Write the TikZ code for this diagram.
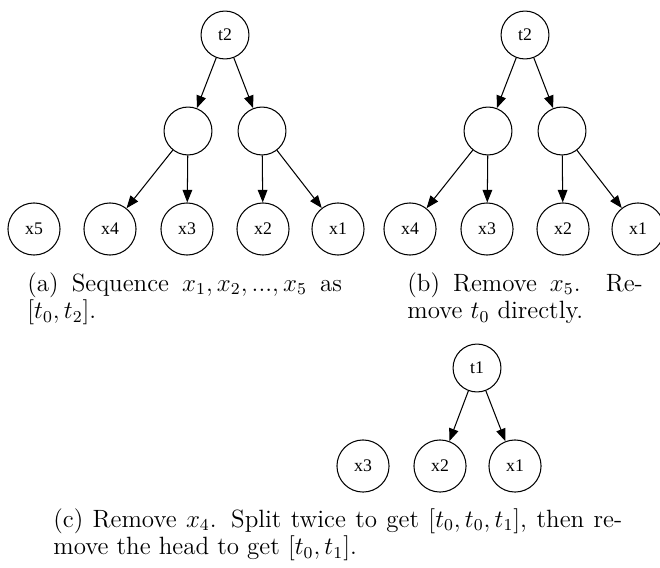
\documentclass[tikz,border=0pt]{standalone}
\usepackage{fontspec}
\newfontfamily\nodefont{Liberation Serif}
\usetikzlibrary{arrows.meta, positioning}
\tikzset{
  vert/.style={circle, draw, line width=0.5pt, minimum size=23pt, inner sep=0pt, font=\nodefont\fontsize{8.5}{10}\selectfont},
  leaf/.style={vert, minimum size=25pt},
  link/.style={line width=0.5pt, -{Triangle[length=6pt, width=4.6pt]}},
  capt/.style={anchor=north west, align=justify, inner sep=0pt, font=\fontsize{12}{13}\selectfont}
}

\begin{document}
\begin{tikzpicture}[x=0.48pt, y=-0.48pt]
  \useasboundingbox (0,0) rectangle (660,567);
  % (a) sequence of five
  \node[vert] (at2) at (225,35) {t2};
  \node[vert] (am1) at (188,131) {};
  \node[vert] (am2) at (262,131) {};
  \foreach \i/\xx in {5/34, 4/110, 3/187, 2/263, 1/338}
    \node[leaf] (a\i) at (\xx,229) {x\i};
  \draw[link] (at2) -- (am1);
  \draw[link] (at2) -- (am2);
  \draw[link] (am1) -- (a4);
  \draw[link] (am1) -- (a3);
  \draw[link] (am2) -- (a2);
  \draw[link] (am2) -- (a1);
  % (b) x5 removed
  \node[vert] (bt2) at (525,35) {t2};
  \node[vert] (bm1) at (488,131) {};
  \node[vert] (bm2) at (562,131) {};
  \foreach \i/\xx in {4/410, 3/487, 2/563, 1/638}
    \node[leaf] (b\i) at (\xx,229) {x\i};
  \draw[link] (bt2) -- (bm1);
  \draw[link] (bt2) -- (bm2);
  \draw[link] (bm1) -- (b4);
  \draw[link] (bm1) -- (b3);
  \draw[link] (bm2) -- (b2);
  \draw[link] (bm2) -- (b1);
  % (c) x4 removed
  \node[vert] (ct1) at (477,368) {t1};
  \foreach \i/\xx in {3/363, 2/440, 1/515}
    \node[leaf] (c\i) at (\xx,466) {x\i};
  \draw[link] (ct1) -- (c2);
  \draw[link] (ct1) -- (c1);
  % captions
  \node[capt, text width=151pt] (capa) at (27,272)
    {(a) Sequence $x_1, x_2, ..., x_5$ as\linebreak $[t_0, t_2]$.};
  \node[capt, text width=113pt] (capb) at (407,272)
    {(b) Remove $x_5$. Re-\linebreak move $t_0$ directly.};
  \node[capt, text width=273pt] (capc) at (53,508)
    {(c) Remove $x_4$. Split twice to get $[t_0, t_0, t_1]$, then re-\linebreak move the head to get $[t_0, t_1]$.};
\end{tikzpicture}
\end{document}
